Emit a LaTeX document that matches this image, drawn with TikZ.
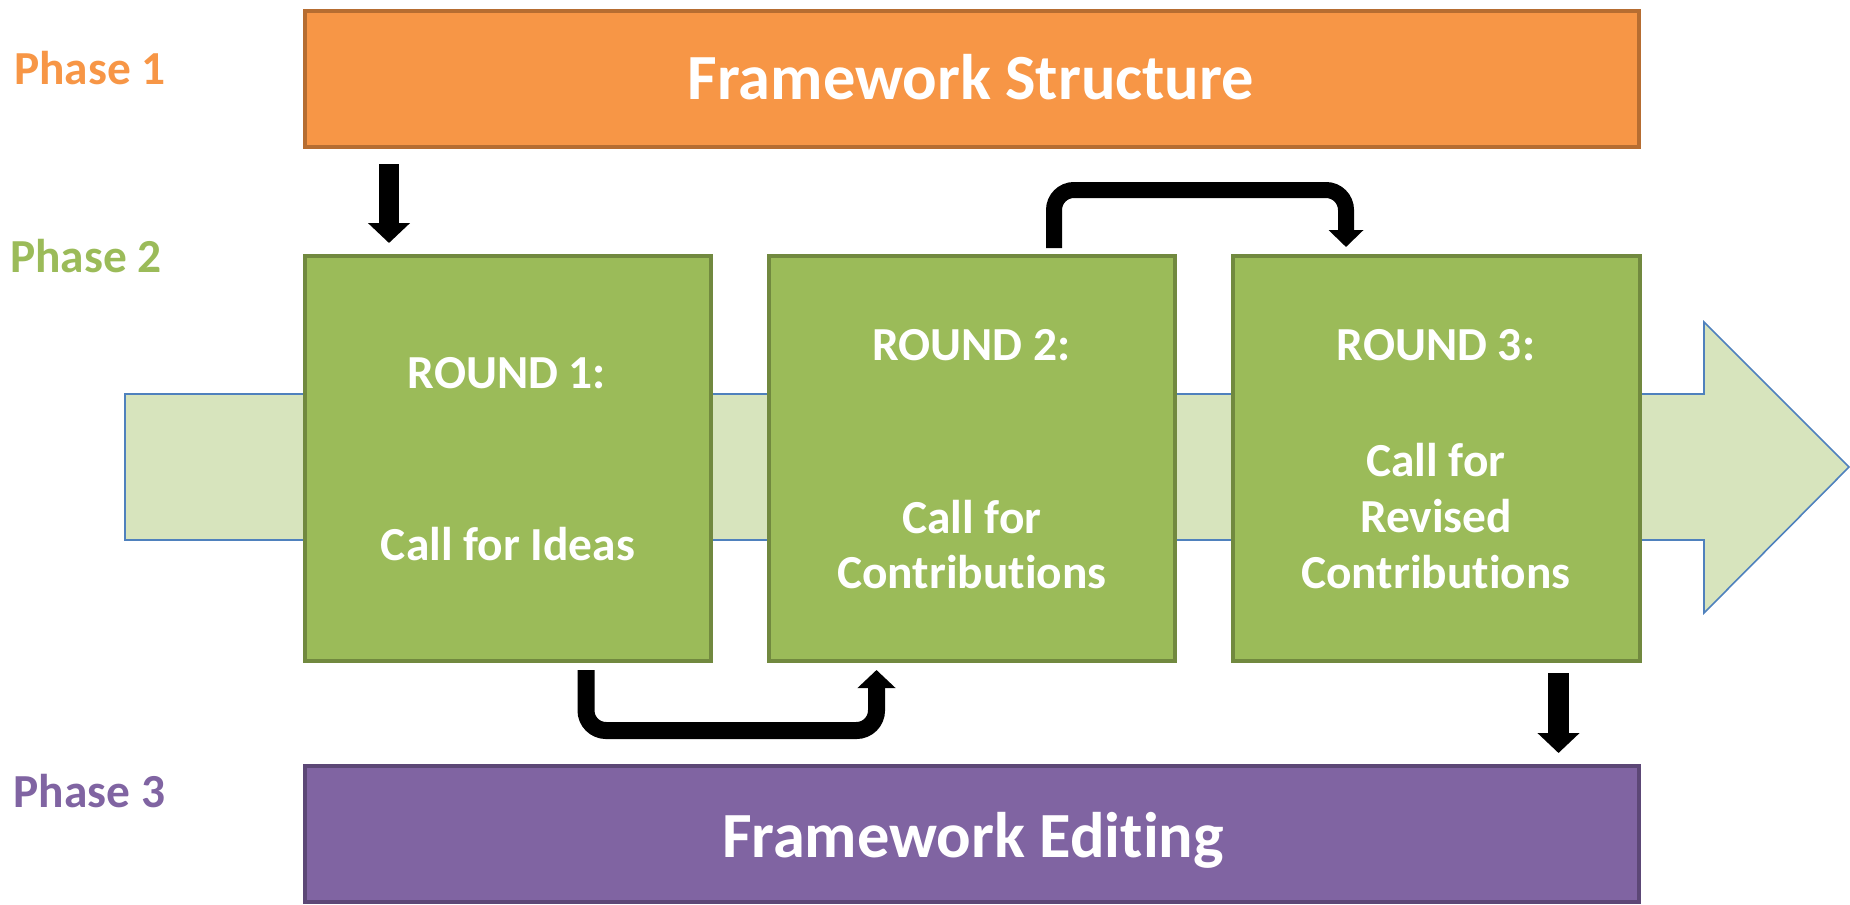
\documentclass[tikz,border=0pt]{standalone}
\usepackage{fontspec}
\setmainfont{Carlito}[Ligatures={NoCommon}]
\usetikzlibrary{arrows.meta,calc}
\definecolor{orangeF}{HTML}{F79646}
\definecolor{orangeD}{HTML}{B66D31}
\definecolor{greenF}{HTML}{9BBB59}
\definecolor{greenD}{HTML}{71893F}
\definecolor{purpleF}{HTML}{8064A2}
\definecolor{purpleD}{HTML}{5C4776}
\definecolor{lightG}{HTML}{D7E4BD}
\definecolor{blueL}{HTML}{4F81BD}
\tikzset{
  phasebox/.style={draw, line width=2pt, rectangle, outer sep=0pt, inner sep=0pt, minimum width=667pt, minimum height=68pt},
  roundbox/.style={draw=greenD, fill=greenF, line width=2pt, rectangle, outer sep=0pt, inner sep=0pt, minimum width=203pt, minimum height=202.5pt},
  phaselabel/.style={anchor=base, inner sep=0pt, font=\bfseries\fontsize{23.7pt}{28pt}\selectfont},
  boxtext/.style={anchor=base, inner sep=0pt, text=white, font=\bfseries\fontsize{23.7pt}{28pt}\selectfont},
  titletext/.style={anchor=base, inner sep=0pt, text=white, font=\bfseries\fontsize{32.2pt}{38pt}\selectfont},
  conn/.style={draw=black, rounded corners=10pt},
}
\begin{document}
\begin{tikzpicture}[x=0.5pt, y=-0.5pt]
\useasboundingbox (0,0) rectangle (1850,904);
% background flow arrow
\draw[fill=lightG, draw=blueL, line width=0.8pt, line join=miter]
  (125,394) -- (1704,394) -- (1704,322) -- (1849,467) -- (1704,613) -- (1704,540) -- (125,540) -- cycle;
% phase boxes
\node[phasebox, draw=orangeD, fill=orangeF] (fs) at (972,79) {};
\node[phasebox, draw=purpleD, fill=purpleF] (fe) at (972,834) {};
\node[titletext] (fst) at (971,99) {Framework Structure};
\node[titletext] (fet) at (973,857) {Framework Editing};
% round boxes
\node[roundbox] (r1) at (508,458.5) {};
\node[roundbox] (r2) at (972,458.5) {};
\node[roundbox, minimum width=203.5pt] (r3) at (1436.5,458.5) {};
\node[boxtext] (r1a) at (507,388) {ROUND 1:};
\node[boxtext] (r1b) at (508,560) {Call for Ideas};
\node[boxtext] (r2a) at (971.5,360) {ROUND 2:};
\node[boxtext] (r2b) at (972,533) {Call for};
\node[boxtext] (r2c) at (972,588) {Contributions};
\node[boxtext] (r3a) at (1436,360) {ROUND 3:};
\node[boxtext] (r3b) at (1436,476) {Call for};
\node[boxtext] (r3c) at (1436,532) {Revised};
\node[boxtext] (r3d) at (1436,588) {Contributions};
% phase labels
\node[phaselabel, text=orangeF] (p1) at (90,85) {Phase 1};
\node[phaselabel, text=greenF] (p2) at (86,272) {Phase 2};
\node[phaselabel, text=purpleF] (p3) at (89.5,807) {Phase 3};
% connectors
\draw[conn, line width=10pt, -{Triangle[width=20.5pt, length=10pt]}]
  ([xshift=-291.5pt, yshift=-8.5pt]fs.south) -- ([xshift=-59.5pt, yshift=6.5pt]r1.north);
\draw[conn, line width=8.5pt, -{Triangle[width=18.5pt, length=9pt]}]
  ([xshift=39pt, yshift=-4.5pt]r1.south) -- ++(0,60.5) -| ([xshift=-47.75pt, yshift=-4.5pt]r2.south);
\draw[conn, line width=8pt, -{Triangle[width=17pt, length=8.5pt]}]
  ([xshift=41pt, yshift=4pt]r2.north) -- ++(0,-58) -| ([xshift=-45.25pt, yshift=4.5pt]r3.north);
\draw[conn, line width=10.5pt, -{Triangle[width=20.5pt, length=10pt]}]
  ([xshift=61pt, yshift=-6pt]r3.south) -- ([xshift=293.25pt, yshift=6.5pt]fe.north);
\end{tikzpicture}
\end{document}
